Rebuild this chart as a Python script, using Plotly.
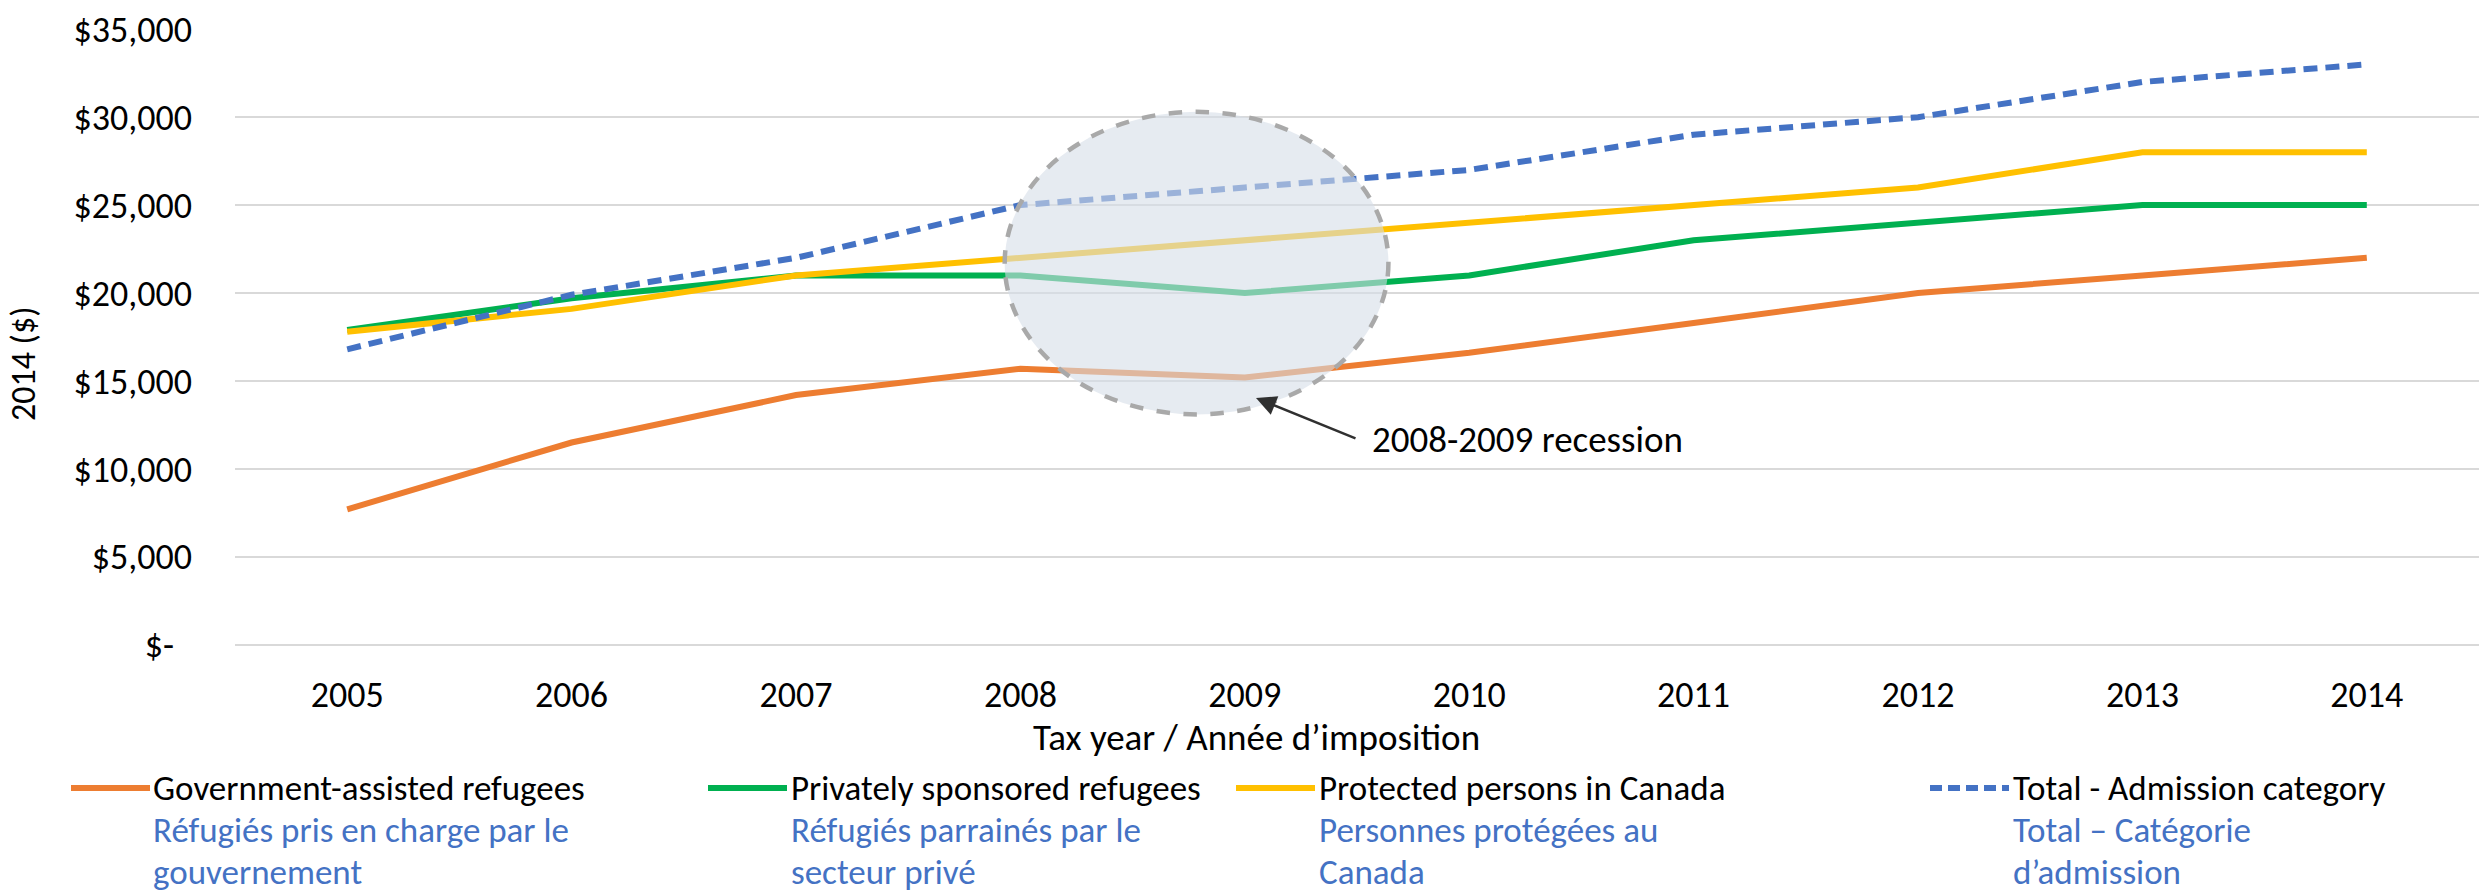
import plotly.graph_objects as go

years = [2005, 2006, 2007, 2008, 2009, 2010, 2011, 2012, 2013, 2014]
gar = [7700, 11500, 14200, 15700, 15200, 16600, 18300, 20000, 21000, 22000]
psr = [17900, 19700, 21000, 21000, 20000, 21000, 23000, 24000, 25000, 25000]
ppc = [17800, 19100, 21000, 22000, 23000, 24000, 25000, 26000, 28000, 28000]
total = [16800, 19900, 22000, 25000, 26000, 27000, 29000, 30000, 32000, 33000]

y_ticks = [0, 5000, 10000, 15000, 20000, 25000, 30000, 35000]
y_tick_text = ["$-\u2002", "$5,000", "$10,000", "$15,000", "$20,000", "$25,000", "$30,000", "$35,000"]

names_en = ["Government-assisted refugees", "Privately sponsored refugees",
            "Protected persons in Canada", "Total - Admission category"]
names_fr = [["Réfugiés pris en charge par le", "gouvernement"],
            ["Réfugiés parrainés par le", "secteur privé"],
            ["Personnes protégées au", "Canada"],
            ["Total – Catégorie", "d’admission"]]

FONT = "Carlito, Lato, sans-serif"
BLUE_TXT = "#4472C4"
TXT = 36

series = [gar, psr, ppc, total]
colors = ["#ED7D31", "#00B050", "#FFC000", "#4472C4"]
dashes = ["solid", "solid", "solid", "14px,8px"]

# plot area in pixels (for placing legend/titles in paper coordinates)
L, R, T, B, W, H = 235, 5, 29, 249, 2484, 894
PW, PH = W - L - R, H - T - B
def px(x):
    return (x - L) / PW
def py(y):
    return (H - B - y) / PH

fig = go.Figure()
for vals, col, dash, en, fr in zip(series, colors, dashes, names_en, names_fr):
    fig.add_trace(go.Scatter(
        x=years, y=vals, mode="lines", name=en + " / " + " ".join(fr),
        line=dict(color=col, width=6, dash=dash), showlegend=False,
    ))

fig.update_layout(
    width=W, height=H,
    margin=dict(l=L, r=R, t=T, b=B),
    paper_bgcolor="white", plot_bgcolor="white",
    showlegend=False,
    font=dict(family=FONT, size=TXT, color="black"),
    xaxis=dict(range=[2004.5, 2014.5], tickvals=years, ticktext=[str(y) for y in years],
               showgrid=False, zeroline=False, showline=False, ticks="",
               ticklabelstandoff=25, tickfont=dict(family=FONT, size=TXT, color="black")),
    yaxis=dict(range=[-12, 35012], tickvals=y_ticks, ticktext=y_tick_text,
               showgrid=True, gridcolor="#D9D9D9", gridwidth=2,
               zeroline=True, zerolinecolor="#D9D9D9", zerolinewidth=2,
               showline=False, ticks="", ticklabelstandoff=42,
               tickfont=dict(family=FONT, size=TXT, color="black")),
)

# Legend (below the plot): swatches + bilingual labels
sw_x0 = [71, 708, 1236, 1930]
txt_x = [152, 790, 1318, 2012]
line_y = [788, 830, 872]
for col, dash, en, fr, sx, tx in zip(colors, dashes, names_en, names_fr, sw_x0, txt_x):
    fig.add_shape(type="line", xref="paper", yref="paper",
                  x0=px(sx), x1=px(sx + 79), y0=py(line_y[0]), y1=py(line_y[0]),
                  line=dict(color=col, width=6, dash=("12px,6px" if dash != "solid" else "solid")))
    for i, (txt, c) in enumerate([(en, "black")] + [(f, BLUE_TXT) for f in fr]):
        fig.add_annotation(x=px(tx), y=py(line_y[i]), xref="paper", yref="paper",
                           text=txt, showarrow=False, xanchor="left", yanchor="middle",
                           borderpad=0,
                           font=dict(family=FONT, size=35, color=c))

# Recession ellipse
fig.add_shape(type="circle", xref="x", yref="y",
              x0=2007.93, x1=2009.64, y0=13100, y1=30300,
              fillcolor="rgba(214,221,231,0.6)",
              line=dict(color="#A9A9A9", width=4.5, dash="dash"), layer="above")

# Arrow
fig.add_annotation(x=2009.05, y=14030, ax=2009.5, ay=11700, xref="x", yref="y",
                   axref="x", ayref="y", text="", showarrow=True,
                   arrowhead=2, arrowsize=1.6, arrowwidth=2.5, arrowcolor="#303030")
fig.add_annotation(x=2009.56, y=11650, xref="x", yref="y", text="2008-2009 recession",
                   showarrow=False, xanchor="left", yanchor="middle",
                   font=dict(family=FONT, size=37, color="black"))

# Axis titles
fig.add_annotation(x=px(1256), y=py(737), xref="paper", yref="paper",
                   text="Tax year / Année d’imposition", showarrow=False,
                   xanchor="center", yanchor="middle",
                   font=dict(family=FONT, size=37, color="black"))
fig.add_annotation(x=px(24), y=py(364), xref="paper", yref="paper",
                   text="2014 ($)", showarrow=False, textangle=-90,
                   xanchor="center", yanchor="middle",
                   font=dict(family=FONT, size=34, color="black"))

fig.write_html("out.html", config={"displayModeBar": False},
               post_script="document.body.style.margin='0px';")
